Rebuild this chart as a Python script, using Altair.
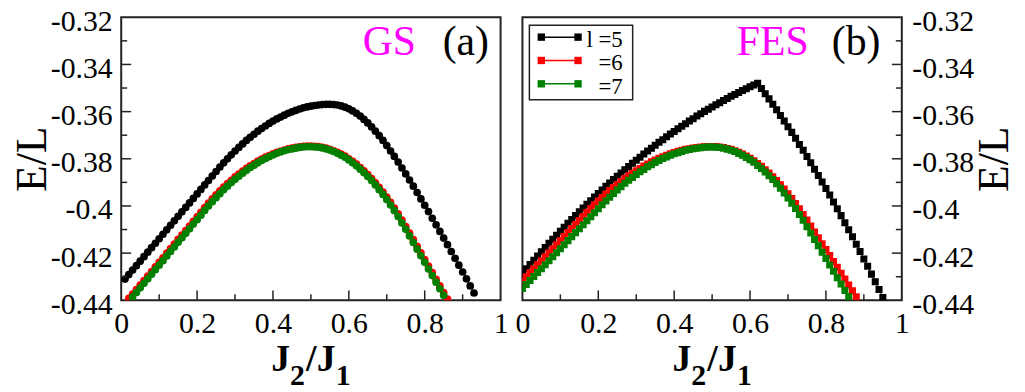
import altair as alt
import pandas as pd

# ---------------- data ----------------
# (a) ground state (GS), circles; J2/J1 grid step 0.01
GS5_J0, GS5_E = 0.01, [
    -0.4310, -0.4291, -0.4272, -0.4253, -0.4234, -0.4215, -0.4196, -0.4177, -0.4158, -0.4139,
    -0.4120, -0.4101, -0.4082, -0.4063, -0.4044, -0.4025, -0.4006, -0.3987, -0.3968, -0.3949,
    -0.3930, -0.3911, -0.3892, -0.3873, -0.3854, -0.3835, -0.3817, -0.3800, -0.3783, -0.3767,
    -0.3752, -0.3737, -0.3722, -0.3709, -0.3696, -0.3683, -0.3672, -0.3661, -0.3650, -0.3640,
    -0.3631, -0.3623, -0.3615, -0.3607, -0.3601, -0.3595, -0.3589, -0.3584, -0.3580, -0.3577,
    -0.3574, -0.3572, -0.3570, -0.3569, -0.3569, -0.3570, -0.3572, -0.3576, -0.3581, -0.3588,
    -0.3597, -0.3607, -0.3619, -0.3633, -0.3648, -0.3665, -0.3683, -0.3702, -0.3722, -0.3744,
    -0.3767, -0.3790, -0.3814, -0.3839, -0.3864, -0.3890, -0.3916, -0.3943, -0.3970, -0.3997,
    -0.4024, -0.4052, -0.4080, -0.4108, -0.4136, -0.4164, -0.4193, -0.4222, -0.4251, -0.4280,
    -0.4309, -0.4339, -0.4369]
GS6_J0, GS6_E = 0.02, [
    -0.4392, -0.4374, -0.4355, -0.4335, -0.4316, -0.4297, -0.4278, -0.4258, -0.4239, -0.4220,
    -0.4200, -0.4181, -0.4162, -0.4142, -0.4123, -0.4104, -0.4085, -0.4065, -0.4046, -0.4027,
    -0.4007, -0.3988, -0.3970, -0.3953, -0.3936, -0.3920, -0.3905, -0.3891, -0.3877, -0.3865,
    -0.3852, -0.3841, -0.3830, -0.3820, -0.3810, -0.3801, -0.3793, -0.3786, -0.3779, -0.3773,
    -0.3768, -0.3763, -0.3758, -0.3755, -0.3752, -0.3749, -0.3747, -0.3746, -0.3746, -0.3747,
    -0.3748, -0.3751, -0.3755, -0.3760, -0.3766, -0.3773, -0.3780, -0.3789, -0.3800, -0.3811,
    -0.3823, -0.3837, -0.3851, -0.3867, -0.3884, -0.3902, -0.3921, -0.3941, -0.3962, -0.3985,
    -0.4009, -0.4033, -0.4060, -0.4087, -0.4115, -0.4143, -0.4171, -0.4199, -0.4227, -0.4255,
    -0.4283, -0.4311, -0.4339, -0.4367, -0.4395]
GS7_J0, GS7_E = 0.03, [
    -0.4386, -0.4367, -0.4347, -0.4328, -0.4309, -0.4290, -0.4270, -0.4251, -0.4232, -0.4212,
    -0.4193, -0.4174, -0.4154, -0.4135, -0.4116, -0.4097, -0.4077, -0.4058, -0.4039, -0.4019,
    -0.4000, -0.3982, -0.3965, -0.3948, -0.3931, -0.3916, -0.3901, -0.3887, -0.3874, -0.3861,
    -0.3849, -0.3837, -0.3827, -0.3817, -0.3807, -0.3799, -0.3791, -0.3784, -0.3777, -0.3771,
    -0.3766, -0.3761, -0.3758, -0.3755, -0.3752, -0.3750, -0.3749, -0.3749, -0.3750, -0.3751,
    -0.3754, -0.3758, -0.3763, -0.3769, -0.3777, -0.3785, -0.3794, -0.3805, -0.3817, -0.3830,
    -0.3844, -0.3859, -0.3875, -0.3892, -0.3911, -0.3931, -0.3951, -0.3973, -0.3996, -0.4020,
    -0.4045, -0.4072, -0.4099, -0.4127, -0.4155, -0.4183, -0.4211, -0.4239, -0.4267, -0.4295,
    -0.4323, -0.4351, -0.4379]
# (b) first excited state (FES), squares
FES5_J0, FES5_E = 0.00, [
    -0.4285, -0.4266, -0.4248, -0.4230, -0.4212, -0.4194, -0.4176, -0.4158, -0.4141, -0.4124,
    -0.4107, -0.4090, -0.4073, -0.4057, -0.4041, -0.4025, -0.4009, -0.3993, -0.3978, -0.3962,
    -0.3947, -0.3932, -0.3917, -0.3903, -0.3888, -0.3874, -0.3860, -0.3846, -0.3833, -0.3819,
    -0.3806, -0.3793, -0.3780, -0.3767, -0.3755, -0.3743, -0.3730, -0.3719, -0.3707, -0.3695,
    -0.3684, -0.3673, -0.3662, -0.3651, -0.3640, -0.3630, -0.3619, -0.3609, -0.3599, -0.3590,
    -0.3580, -0.3571, -0.3562, -0.3553, -0.3544, -0.3535, -0.3527, -0.3519, -0.3510, -0.3503,
    -0.3495, -0.3487, -0.3480, -0.3502, -0.3524, -0.3546, -0.3569, -0.3592, -0.3616, -0.3640,
    -0.3664, -0.3688, -0.3713, -0.3739, -0.3764, -0.3790, -0.3817, -0.3844, -0.3871, -0.3898,
    -0.3926, -0.3954, -0.3983, -0.4012, -0.4041, -0.4071, -0.4101, -0.4131, -0.4162, -0.4193,
    -0.4225, -0.4256, -0.4289, -0.4321, -0.4354, -0.4388]
FES6_J0, FES6_E = 0.00, [
    -0.4317, -0.4300, -0.4283, -0.4266, -0.4249, -0.4232, -0.4215, -0.4198, -0.4181, -0.4164,
    -0.4147, -0.4130, -0.4113, -0.4096, -0.4079, -0.4062, -0.4045, -0.4028, -0.4011, -0.3995,
    -0.3979, -0.3964, -0.3949, -0.3935, -0.3922, -0.3909, -0.3896, -0.3884, -0.3872, -0.3861,
    -0.3851, -0.3841, -0.3831, -0.3822, -0.3813, -0.3805, -0.3798, -0.3791, -0.3785, -0.3779,
    -0.3773, -0.3768, -0.3764, -0.3760, -0.3757, -0.3754, -0.3752, -0.3750, -0.3749, -0.3748,
    -0.3748, -0.3748, -0.3750, -0.3752, -0.3756, -0.3760, -0.3766, -0.3772, -0.3780, -0.3788,
    -0.3798, -0.3808, -0.3820, -0.3832, -0.3846, -0.3860, -0.3876, -0.3892, -0.3910, -0.3928,
    -0.3948, -0.3968, -0.3990, -0.4012, -0.4036, -0.4060, -0.4085, -0.4110, -0.4135, -0.4160,
    -0.4185, -0.4210, -0.4235, -0.4260, -0.4285, -0.4310, -0.4335, -0.4360, -0.4385]
FES7_J0, FES7_E = 0.00, [
    -0.4350, -0.4333, -0.4316, -0.4299, -0.4282, -0.4266, -0.4249, -0.4232, -0.4215, -0.4198,
    -0.4181, -0.4164, -0.4147, -0.4130, -0.4113, -0.4097, -0.4080, -0.4063, -0.4046, -0.4029,
    -0.4012, -0.3995, -0.3979, -0.3963, -0.3947, -0.3932, -0.3918, -0.3904, -0.3891, -0.3879,
    -0.3867, -0.3855, -0.3845, -0.3834, -0.3825, -0.3816, -0.3807, -0.3799, -0.3792, -0.3785,
    -0.3779, -0.3774, -0.3769, -0.3764, -0.3761, -0.3757, -0.3755, -0.3753, -0.3751, -0.3750,
    -0.3750, -0.3751, -0.3752, -0.3755, -0.3759, -0.3764, -0.3769, -0.3777, -0.3785, -0.3794,
    -0.3804, -0.3815, -0.3828, -0.3841, -0.3856, -0.3872, -0.3888, -0.3906, -0.3925, -0.3945,
    -0.3966, -0.3988, -0.4011, -0.4036, -0.4061, -0.4088, -0.4115, -0.4142, -0.4169, -0.4196,
    -0.4223, -0.4250, -0.4277, -0.4304, -0.4331, -0.4358, -0.4385]

LEGEND_LABELS = ["l =5", "=6", "=7"]
COLORS = ["#000000", "#ff0000", "#008000"]
Y_TICKS = [-0.44, -0.42, -0.40, -0.38, -0.36, -0.34, -0.32]
Y_MAJOR_IN = [-0.42, -0.40, -0.38, -0.36, -0.34]
Y_MINOR = [-0.43, -0.41, -0.39, -0.37, -0.35, -0.33]
X_TICKS = [0, 0.2, 0.4, 0.6, 0.8, 1]
X_MAJOR_IN = [0.2, 0.4, 0.6, 0.8]
X_MINOR = [0.1, 0.3, 0.5, 0.7, 0.9]

# ---------------- styling ----------------
W, H = 382, 285
FONT = "Liberation Serif"
INK = "#222222"
XS = alt.Scale(domain=[0, 1], nice=False, zero=False)
YS = alt.Scale(domain=[-0.44, -0.32], nice=False, zero=False)
LBL = "toString(round(datum.value*100)/100)"


def frame(j0, e):
    # J2/J1 values on the 0.01 grid of the data, starting at j0
    return pd.DataFrame({"J": [round(j0 + 0.01 * i, 2) for i in range(len(e))], "E": e})


def x_enc():
    return alt.X("J:Q", scale=XS, axis=alt.Axis(
        values=X_TICKS, ticks=False, domain=False, grid=False, labelExpr=LBL,
        labelFont=FONT, labelFontSize=30, labelColor="black", labelPadding=8,
        labelFlush=False, labelOverlap=False, title=None))


def y_enc(side):
    if side == "left":
        extra = dict(orient="left", labelPadding=9, titleBaseline="bottom",
                     minExtent=64, maxExtent=64)
    else:
        extra = dict(orient="right", labelPadding=10, titleBaseline="top",
                     minExtent=68, maxExtent=68)
    return alt.Y("E:Q", scale=YS, axis=alt.Axis(
        values=Y_TICKS, ticks=False, domain=False, grid=False, labelExpr=LBL,
        labelFont=FONT, labelFontSize=30, labelColor="black", labelOffset=4,
        labelFlush=False, labelOverlap=False, title="E/L", titleFont=FONT,
        titleFontSize=44, titleFontWeight="normal", titleColor="black",
        titleAngle=270, titlePadding=3, **extra))


def series(j0, e, color, shape, size, side):
    base = alt.Chart(frame(j0, e))
    line = base.mark_line(color=color, strokeWidth=1, clip=True).encode(x=x_enc(), y=y_enc(side))
    pts = base.mark_point(shape=shape, filled=True, size=size, color=color, opacity=1,
                          strokeWidth=0, clip=True).encode(x=x_enc(), y=y_enc(side))
    return [line, pts]


def x_ticks(vals, length, side):
    return alt.Chart(pd.DataFrame({"J": vals})).mark_rule(color=INK, strokeWidth=1.5).encode(
        x=x_enc(), y=alt.value(H), y2=alt.value(H - length))


def y_ticks(vals, length, side):
    if side == "left":
        xa, xb = 0, length
    else:
        xa, xb = W - length, W
    return alt.Chart(pd.DataFrame({"E": vals})).mark_rule(color=INK, strokeWidth=1.5).encode(
        y=y_enc(side), x=alt.value(xa), x2=alt.value(xb))


def text(t, x, y, size, color="black", weight="normal", align="center"):
    return alt.Chart(pd.DataFrame({"t": [t]})).mark_text(
        font=FONT, fontSize=size, fontWeight=weight, color=color, align=align,
        baseline="alphabetic").encode(x=alt.value(x), y=alt.value(y), text="t:N")


def xlabel_parts():
    return [
        text("J", 151, H + 71, 38, weight="bold", align="left"),
        text("2", 170, H + 85, 30, weight="bold", align="left"),
        text("/", 186, H + 71, 38, weight="bold", align="left"),
        text("J", 197, H + 71, 38, weight="bold", align="left"),
        text("1", 216, H + 85, 30, weight="bold", align="left"),
    ]


def panel_ticks(side):
    return [x_ticks(X_MAJOR_IN, 10, side), x_ticks(X_MINOR, 6, side),
            y_ticks(Y_MAJOR_IN, 10, side), y_ticks(Y_MINOR, 6, side)]


# ---------------- panel (a) ----------------
left_layers = series(GS5_J0, GS5_E, COLORS[0], "circle", 60, "left")
left_layers += series(GS6_J0, GS6_E, COLORS[1], "circle", 60, "left")
left_layers += series(GS7_J0, GS7_E, COLORS[2], "circle", 60, "left")
left_layers += panel_ticks("left")
left_layers += [text("GS", 270, 38, 42, color="#ff00ff"), text("(a)", 347, 38, 42)]
left_layers += xlabel_parts()
left = alt.layer(*left_layers).properties(width=W, height=H)

# ---------------- panel (b) ----------------
right_layers = series(FES5_J0, FES5_E, COLORS[0], "square", 50, "right")
right_layers += series(FES6_J0, FES6_E, COLORS[1], "square", 50, "right")
right_layers += series(FES7_J0, FES7_E, COLORS[2], "square", 50, "right")
right_layers += panel_ticks("right")
right_layers += [text("FES", 252, 38, 42, color="#ff00ff"), text("(b)", 336, 38, 42)]
right_layers += xlabel_parts()

# legend box
right_layers.append(alt.Chart(pd.DataFrame({"t": [0]})).mark_rect(
    fill="white", stroke=INK, strokeWidth=1.5).encode(
    x=alt.value(7), x2=alt.value(111), y=alt.value(8), y2=alt.value(83)))
for i, (lab, col) in enumerate(zip(LEGEND_LABELS, COLORS)):
    yy = 20 + i * 23.5
    right_layers.append(alt.Chart(pd.DataFrame({"t": [0]})).mark_rule(color=col, strokeWidth=1.5).encode(
        x=alt.value(19), x2=alt.value(56), y=alt.value(yy)))
    for xx in (19, 56):
        right_layers.append(alt.Chart(pd.DataFrame({"t": [0]})).mark_point(
            shape="square", filled=True, size=55, color=col, opacity=1).encode(
            x=alt.value(xx), y=alt.value(yy)))
    right_layers.append(text(lab, 101, yy + 10, 23, align="right"))

right = alt.layer(*right_layers).properties(width=W, height=H)

chart = alt.hconcat(left, right, spacing=4).configure_view(
    stroke=INK, strokeWidth=2).properties(
    padding={"left": 2, "top": -4, "right": 0, "bottom": 0})

chart.save("out.html", embed_options={"renderer": "svg", "actions": False})
